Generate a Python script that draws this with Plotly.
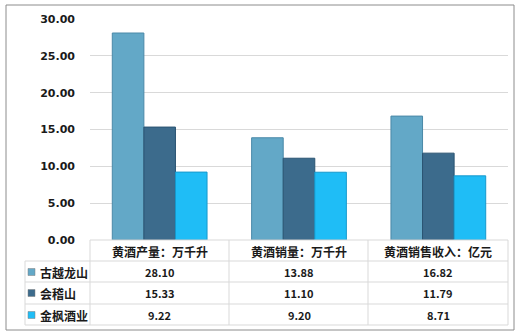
import plotly.graph_objects as go

categories = ["黄酒产量：万千升", "黄酒销量：万千升", "黄酒销售收入：亿元"]
series_names = ["古越龙山", "会稽山", "金枫酒业"]
gu_yue = [28.10, 13.88, 16.82]
kuai_ji = [15.33, 11.10, 11.79]
jin_feng = [9.22, 9.20, 8.71]
series_values = [gu_yue, kuai_ji, jin_feng]
y_ticks = [0, 5, 10, 15, 20, 25, 30]

colors = ["#63A8C7", "#3C6B8C", "#1FBDF6"]
edges = ["#4A89A8", "#2A5472", "#1799CC"]

W, H = 519, 335
L, R, T, B = 90, 11, 19, 95
PW, PH = W - L - R, H - T - B

def px(x):
    return (x - L) / PW

def py(y):
    return (H - B - y) / PH

FONT = "Noto Sans CJK SC"

fig = go.Figure()
for name, vals, c, e in zip(series_names, series_values, colors, edges):
    fig.add_trace(go.Bar(x=categories, y=vals, name=name,
                         marker=dict(color=c, line=dict(color=e, width=1))))

shapes = []
ann = []
grid = "#D9D9D9"
# outer border
shapes.append(dict(type="rect", xref="paper", yref="paper", x0=px(6), x1=px(514),
                   y0=py(330), y1=py(5), line=dict(color="#8C8C8C", width=1)))
# table horizontal lines
row_lines = [240, 261, 282, 304, 325]
for i, yy in enumerate(row_lines):
    x0 = 90 if i == 0 else 25
    shapes.append(dict(type="line", xref="paper", yref="paper", x0=px(x0), x1=px(508),
                       y0=py(yy), y1=py(yy), line=dict(color=grid, width=1)))
# vertical lines
for xx in [90, 229, 368, 508]:
    shapes.append(dict(type="line", xref="paper", yref="paper", x0=px(xx), x1=px(xx),
                       y0=py(240), y1=py(325), line=dict(color=grid, width=1)))
shapes.append(dict(type="line", xref="paper", yref="paper", x0=px(25), x1=px(25),
                   y0=py(261), y1=py(325), line=dict(color=grid, width=1)))

# header texts
for cat in categories:
    ann.append(dict(x=cat, xref="x", y=py(251), yref="paper", text="<b>%s</b>" % cat,
                    xanchor="center", yanchor="middle",
                    showarrow=False, font=dict(size=12, color="#1a1a1a", family=FONT)))
row_centers = [272, 293, 315]
for r, (name, vals, c) in enumerate(zip(series_names, series_values, colors)):
    yc = row_centers[r]
    shapes.append(dict(type="rect", xref="paper", yref="paper", x0=px(28), x1=px(35),
                       y0=py(yc + 3.5), y1=py(yc - 3.5), fillcolor=c,
                       line=dict(color="#7F7F7F", width=0.5)))
    ann.append(dict(x=px(38), xref="paper", y=py(yc), yref="paper", text="<b>%s</b>" % name,
                    xanchor="left", yanchor="middle",
                    showarrow=False, font=dict(size=12, color="#1a1a1a", family=FONT)))
    for cat, v in zip(categories, vals):
        ann.append(dict(x=cat, xref="x", y=py(yc), yref="paper", text="<b>%.2f</b>" % v,
                        xanchor="center", yanchor="middle",
                        showarrow=False, font=dict(size=11, color="#1a1a1a", family=FONT)))

fig.update_layout(
    width=W, height=H,
    margin=dict(l=L, r=R, t=T, b=B),
    paper_bgcolor="white", plot_bgcolor="white",
    barmode="group", bargap=0.32, bargroupgap=0,
    showlegend=False,
    shapes=shapes, annotations=ann,
    font=dict(family=FONT),
)
fig.update_xaxes(showticklabels=False, showgrid=False, zeroline=False, showline=False)
fig.update_yaxes(range=[0, 30], tickvals=y_ticks, ticktext=["<b>%.2f</b>" % t for t in y_ticks],
                 showgrid=True, gridcolor=grid, gridwidth=1, zeroline=False, showline=False,
                 tickfont=dict(size=11, color="#1a1a1a", family="DejaVu Sans"), ticklabelstandoff=14)
fig.write_html("out.html")
